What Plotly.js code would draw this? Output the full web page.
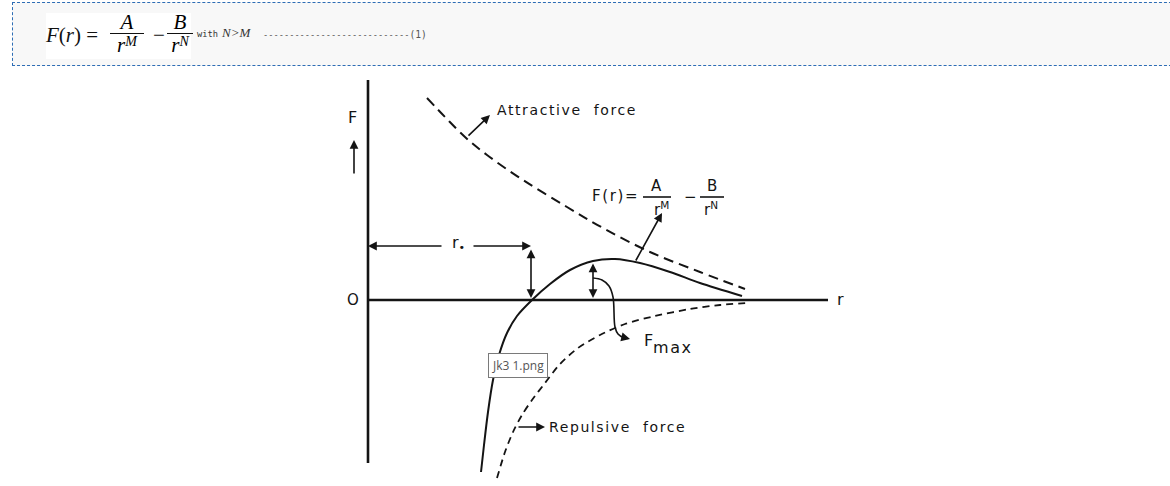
<!DOCTYPE html>
<html>
<head>
<meta charset="utf-8">
<script src="https://cdn.plot.ly/plotly-3.0.1.min.js"></script>
<style>
  html, body { margin: 0; padding: 0; background: #fff; width: 1170px; height: 486px; overflow: hidden; }
  #chart { position: absolute; left: 0; top: 0; width: 1170px; height: 486px; }
  #box { position: absolute; left: 12px; top: 2px; width: 1170px; height: 64px;
         border-top: 1px dashed #2d6db5; border-bottom: 1px dashed #2d6db5; border-left: 1px dashed #2d6db5;
         background: #f8f8f8; box-sizing: border-box; z-index: 5; }
  #eqbg { position: absolute; left: 33px; top: 10px; width: 145px; height: 46px; background: #fff; }
  .m { position: absolute; font-family: "Liberation Serif", "DejaVu Serif", serif; color: #111; }
  .it { font-style: italic; }
  .frac { position: absolute; display: flex; flex-direction: column; align-items: center; }
  .num { font-family: "Liberation Serif", serif; font-style: italic; font-size: 21px; line-height: 20px; }
  .bar { height: 1px; background: #111; width: 100%; margin: 1px 0 1px 0; }
  .den { font-family: "Liberation Serif", serif; font-style: italic; font-size: 21px; line-height: 20px; }
  .den sup { font-size: 14px; position: relative; top: -3px; vertical-align: top; }
  .mono { position: absolute; font-family: "DejaVu Sans Mono", "Liberation Mono", monospace; font-size: 8.7px; color: #333; }
</style>
</head>
<body>
<div id="chart"></div>
<div id="box">
  <div id="eqbg"></div>
  <div class="m" style="left:33px; top:20px; font-size:21px;"><span class="it">F</span>(<span class="it">r</span>) =</div>
  <div class="frac" style="left:97px; top:9px; width:34px;">
    <div class="num">A</div><div class="bar"></div><div class="den">r<sup>M</sup></div>
  </div>
  <div class="m" style="left:140px; top:20px; font-size:21px;">−</div>
  <div class="frac" style="left:154px; top:9px; width:26px;">
    <div class="num">B</div><div class="bar"></div><div class="den">r<sup>N</sup></div>
  </div>
  <div class="mono" style="left:184px; top:26px;">with</div>
  <div class="m it" style="left:209px; top:22px; font-size:13px; color:#333;">N&gt;M</div>
  <div class="mono" style="left:250px; top:26px; color:#555;">----------------------------<span style="font-size:9.6px">(1)</span></div>
</div>
<script>
// Attractive force (dashed, upper)
const rAttr = [0.59, 0.77, 0.97, 1.19, 1.55, 1.99, 2.35, 2.82, 3.32, 3.77];
const FAttr = [2.02, 1.83, 1.63, 1.45, 1.20, 0.93, 0.72, 0.48, 0.28, 0.11];
// Net force F(r) (solid)
const rNet = [1.13, 1.16, 1.20, 1.25, 1.31, 1.39, 1.49, 1.64, 1.82, 2.02, 2.25, 2.47, 2.72, 3.02, 3.32, 3.74];
const FNet = [-1.72, -1.45, -1.12, -0.80, -0.55, -0.33, -0.16, 0.00, 0.16, 0.30, 0.39, 0.41, 0.37, 0.28, 0.17, 0.04];
// Repulsive force (dashed, lower)
const rRep = [1.29, 1.37, 1.45, 1.54, 1.64, 1.77, 1.92, 2.10, 2.32, 2.57, 2.87, 3.22, 3.52, 3.79];
const FRep = [-1.78, -1.52, -1.32, -1.15, -1.00, -0.83, -0.64, -0.48, -0.35, -0.24, -0.16, -0.09, -0.05, -0.03];
// Axes extents
const rAxisX = [0, 4.60], rAxisY = [0, 0];
const FAxisX = [0, 0], FAxisY = [2.20, -1.63];
// Fmax pointer path
const rFmaxPath = [2.25, 2.34, 2.41, 2.45, 2.47, 2.50, 2.56];
const FFmaxPath = [0.22, 0.20, 0.14, 0.03, -0.27, -0.34, -0.38];

const ink = '#141414';
const traces = [
  {x: rAxisX, y: rAxisY, mode: 'lines', line: {color: ink, width: 2.6}, hoverinfo: 'skip'},
  {x: FAxisX, y: FAxisY, mode: 'lines', line: {color: ink, width: 2.6}, hoverinfo: 'skip'},
  {x: rAttr, y: FAttr, mode: 'lines', line: {color: ink, width: 2, dash: '10px,6px', shape: 'spline'}, hoverinfo: 'skip'},
  {x: rNet, y: FNet, mode: 'lines', line: {color: ink, width: 2, shape: 'spline', smoothing: 0.8}, hoverinfo: 'skip'},
  {x: rRep, y: FRep, mode: 'lines', line: {color: ink, width: 1.8, dash: '7px,5px', shape: 'spline', smoothing: 0.8}, hoverinfo: 'skip'},
  {x: rFmaxPath, y: FFmaxPath, mode: 'lines', line: {color: ink, width: 1.6, shape: 'spline'}, hoverinfo: 'skip'}
];

const fnt = {family: 'DejaVu Sans, sans-serif', size: 14, color: ink};
function arrow(x, y, ax, ay, both) {
  const a = {x: x, y: y, ax: ax, ay: ay, xref: 'x', yref: 'y', axref: 'x', ayref: 'y',
    text: '', showarrow: true, arrowhead: 2, arrowsize: 1.1, arrowwidth: 1.6, arrowcolor: ink};
  if (both) { a.arrowside = 'end+start'; a.startarrowhead = 2; a.startarrowsize = 1.1; }
  return a;
}
function label(x, y, text, xanchor, size) {
  return {x: x, y: y, xref: 'x', yref: 'y', text: text, showarrow: false,
    xanchor: xanchor || 'center', yanchor: 'middle', font: Object.assign({}, fnt, size ? {size: size} : {})};
}
const sp = s => '<span style="letter-spacing:1.6px">' + s + '</span>';

const annotations = [
  arrow(1.22, 1.85, 0.99, 1.63),
  label(1.27, 1.90, sp('Attractive  force'), 'left'),
  arrow(2.94, 0.87, 2.67, 0.38),
  arrow(0.0, 0.54, 0.75, 0.54),
  arrow(1.63, 0.54, 1.04, 0.54),
  label(0.90, 0.57, 'r<sub>•</sub>', 'center', 16),
  arrow(1.63, 0.02, 1.63, 0.52, true),
  arrow(2.25, 0.02, 2.25, 0.38, true),
  arrow(2.62, -0.39, 2.54, -0.37),
  label(2.735, -0.40, 'F', 'left', 16),
  label(2.83, -0.47, sp('max'), 'left', 16),
  arrow(1.77, -1.27, 1.49, -1.27),
  label(1.79, -1.27, sp('Repulsive  force'), 'left'),
  label(-0.16, 1.83, 'F', 'center', 16),
  arrow(-0.14, 1.60, -0.14, 1.25),
  label(-0.15, 0.0, 'O', 'center', 15),
  label(4.72, 0.01, 'r', 'center', 16),
  label(2.47, 1.04, sp('F(r)='), 'center', 15),
  label(2.88, 1.14, 'A', 'center', 15),
  label(2.93, 0.91, 'r<sup>M</sup>', 'center', 15),
  label(3.225, 1.03, '−', 'center', 15),
  label(3.44, 1.14, 'B', 'center', 15),
  label(3.43, 0.91, 'r<sup>N</sup>', 'center', 15),
  {x: 1.50, y: -0.65, xref: 'x', yref: 'y', text: 'Jk3 1.png', showarrow: false,
    bgcolor: '#ffffff', bordercolor: '#7a7a7a', borderwidth: 1, borderpad: 3,
    font: {family: 'Open Sans, Noto Sans, sans-serif', size: 12, color: '#555'}}
];

const shapes = [
  {type: 'line', xref: 'x', yref: 'y', x0: 2.75, x1: 3.03, y0: 1.03, y1: 1.03, line: {color: ink, width: 1.6}},
  {type: 'line', xref: 'x', yref: 'y', x0: 3.32, x1: 3.56, y0: 1.03, y1: 1.03, line: {color: ink, width: 1.6}}
];

const layout = {
  width: 1170, height: 486,
  margin: {l: 0, r: 0, t: 0, b: 0},
  paper_bgcolor: '#ffffff', plot_bgcolor: '#ffffff',
  showlegend: false,
  xaxis: {range: [-3.68, 8.02], visible: false, fixedrange: true},
  yaxis: {range: [-1.86, 3.00], visible: false, fixedrange: true},
  annotations: annotations,
  shapes: shapes
};

Plotly.newPlot('chart', traces, layout, {staticPlot: true, displayModeBar: false});
</script>
</body>
</html>
